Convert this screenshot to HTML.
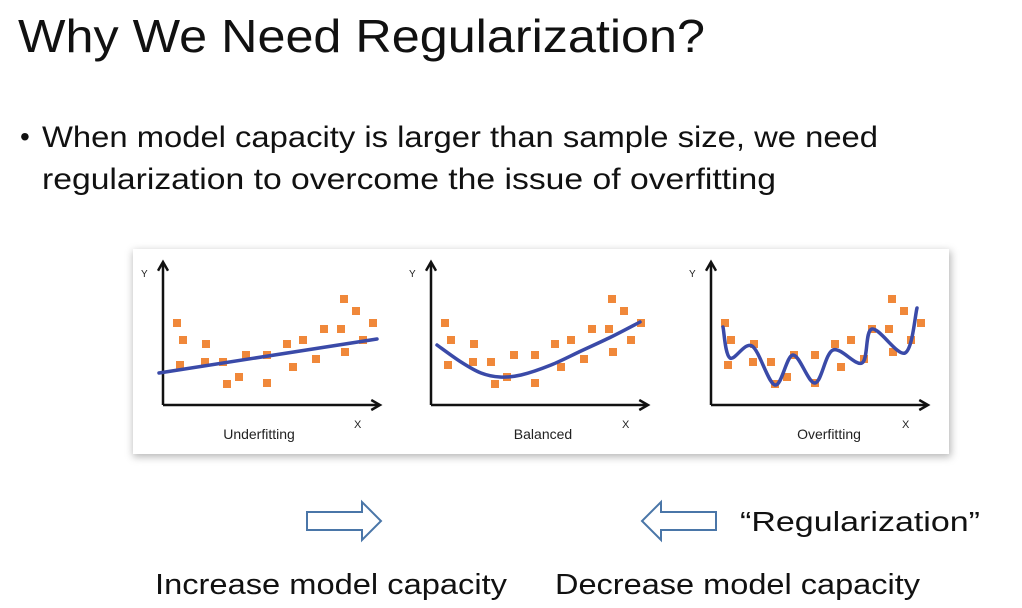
<!DOCTYPE html>
<html><head><meta charset="utf-8"><style>
html,body{margin:0;padding:0;background:#fff;}
svg{display:block;font-family:"Liberation Sans",sans-serif;}
</style></head><body>
<svg id="slide" width="1022" height="608" viewBox="0 0 1022 608">
<defs>
<filter id="sh" x="-5%" y="-10%" width="110%" height="120%"><feGaussianBlur stdDeviation="4"/></filter>
<marker id="ah" viewBox="0 0 10 10" refX="8" refY="5" markerWidth="5" markerHeight="5" orient="auto"><path d="M1,1 L8,5 L1,9" fill="none" stroke="#111" stroke-width="2"/></marker>
</defs>
<text x="18" y="52" font-size="46" textLength="687" lengthAdjust="spacingAndGlyphs" fill="#111">Why We Need Regularization?</text>
<text x="20" y="146" font-size="28" fill="#111">•</text>
<text x="42" y="147" font-size="30" textLength="836" lengthAdjust="spacingAndGlyphs" fill="#111">When model capacity is larger than sample size, we need</text>
<text x="42" y="189" font-size="30" textLength="734" lengthAdjust="spacingAndGlyphs" fill="#111">regularization to overcome the issue of overfitting</text>
<rect x="133" y="251" width="818" height="206" fill="#888" opacity="0.6" filter="url(#sh)"/>
<rect x="133" y="249" width="816" height="205" fill="#fff"/>
<g id="panels"></g>
<path d="M307,512 H362 V502 L381,521 L362,540 V530 H307 Z" fill="#fff" stroke="#4a76a8" stroke-width="2"/>
<path d="M716,512 H661 V502 L642,521 L661,540 V530 H716 Z" fill="#fff" stroke="#4a76a8" stroke-width="2"/>
<text x="740" y="531" font-size="28" textLength="240" lengthAdjust="spacingAndGlyphs" fill="#111">“Regularization”</text>
<text x="155" y="594" font-size="29" textLength="352" lengthAdjust="spacingAndGlyphs" fill="#111">Increase model capacity</text>
<text x="555" y="594" font-size="29" textLength="365" lengthAdjust="spacingAndGlyphs" fill="#111">Decrease model capacity</text>
</svg>
<script>
const pointX = [0.7,1.0,0.85,2.15,2.1,3.0,3.2,3.8,4.15,5.2,5.2,6.2,6.5,7.0,7.65,8.05,8.9,9.05,9.1,9.65,10.0,10.5];
const pointY = [8.2,6.5,4.0,6.1,4.3,4.3,2.1,2.8,5.0,5.0,2.2,6.1,3.8,6.5,4.6,7.6,7.6,10.6,5.3,9.4,6.5,8.2];
const panelNames = ["Underfitting","Balanced","Overfitting"];
const underfitX = [-0.2,10.7];
const underfitY = [3.2,6.6];
const balancedX = [0.3,1.5,2.5,3.45,4.5,6.0,7.5,9.0,10.45];
const balancedY = [6.0,4.3,3.2,2.8,3.0,4.0,5.4,6.8,8.3];
const overfitX = [0.6,0.95,2.05,3.2,4.1,5.2,6.1,7.55,8.05,9.7,10.3];
const overfitY = [7.8,4.7,5.9,2.0,5.0,2.2,5.5,4.2,7.6,5.2,9.7];
const NS="http://www.w3.org/2000/svg";
const offsets=[0,268,548];
const labelShift=[0,16,22];
function sx(v,o){return 163+o+v*20;}
function sy(v){return 405-v*10;}
function mk(t,a){const e=document.createElementNS(NS,t);for(const k in a)e.setAttribute(k,a[k]);return e;}
function smooth(xs,ys,o){
  const p=xs.map((x,i)=>[sx(x,o),sy(ys[i])]);
  let d="M"+p[0][0]+","+p[0][1];
  for(let i=0;i<p.length-1;i++){
    const p0=p[i-1]||p[i],p1=p[i],p2=p[i+1],p3=p[i+2]||p2;
    const c1=[p1[0]+(p2[0]-p0[0])/6,p1[1]+(p2[1]-p0[1])/6];
    const c2=[p2[0]-(p3[0]-p1[0])/6,p2[1]-(p3[1]-p1[1])/6];
    d+=" C"+c1[0]+","+c1[1]+" "+c2[0]+","+c2[1]+" "+p2[0]+","+p2[1];
  }
  return d;
}
const g=document.getElementById("panels");
const fits=[[underfitX,underfitY],[balancedX,balancedY],[overfitX,overfitY]];
panelNames.forEach((name,pi)=>{
  const o=offsets[pi];
  const pg=mk("g",{});
  
  
  g.appendChild(pg);
  const ya=mk("line",{x1:163+o,y1:405,x2:163+o,y2:262,stroke:"#111","stroke-width":2.5,"marker-end":"url(#ah)"});
  
  
  pg.appendChild(ya);
  const xa=mk("line",{x1:163+o,y1:405,x2:380+o,y2:405,stroke:"#111","stroke-width":2.5,"marker-end":"url(#ah)"});
  
  
  pg.appendChild(xa);
  const yl=mk("text",{x:141+o,y:277,"font-size":10,fill:"#222"});yl.textContent="Y";
  
  
  pg.appendChild(yl);
  const xl=mk("text",{x:354+o,y:428,"font-size":11,fill:"#222"});xl.textContent="X";
  
  
  pg.appendChild(xl);
  const t=mk("text",{x:259+o+labelShift[pi],y:439,"font-size":14,"text-anchor":"middle",fill:"#222"});t.textContent=name;
  
  
  pg.appendChild(t);
  pointX.forEach((x,i)=>{
    const r=mk("rect",{x:sx(x,o)-4,y:sy(pointY[i])-4,width:8,height:8,fill:"#f0883a"});
    
    
    pg.appendChild(r);
  });
  const f=fits[pi];
  const path=mk("path",{d:pi==0?("M"+sx(f[0][0],o)+","+sy(f[1][0])+" L"+sx(f[0][1],o)+","+sy(f[1][1])):smooth(f[0],f[1],o),fill:"none",stroke:"#3a4aa8","stroke-width":3.5,"stroke-linecap":"round"});
  
  
  pg.appendChild(path);
});
</script>
</body></html>
